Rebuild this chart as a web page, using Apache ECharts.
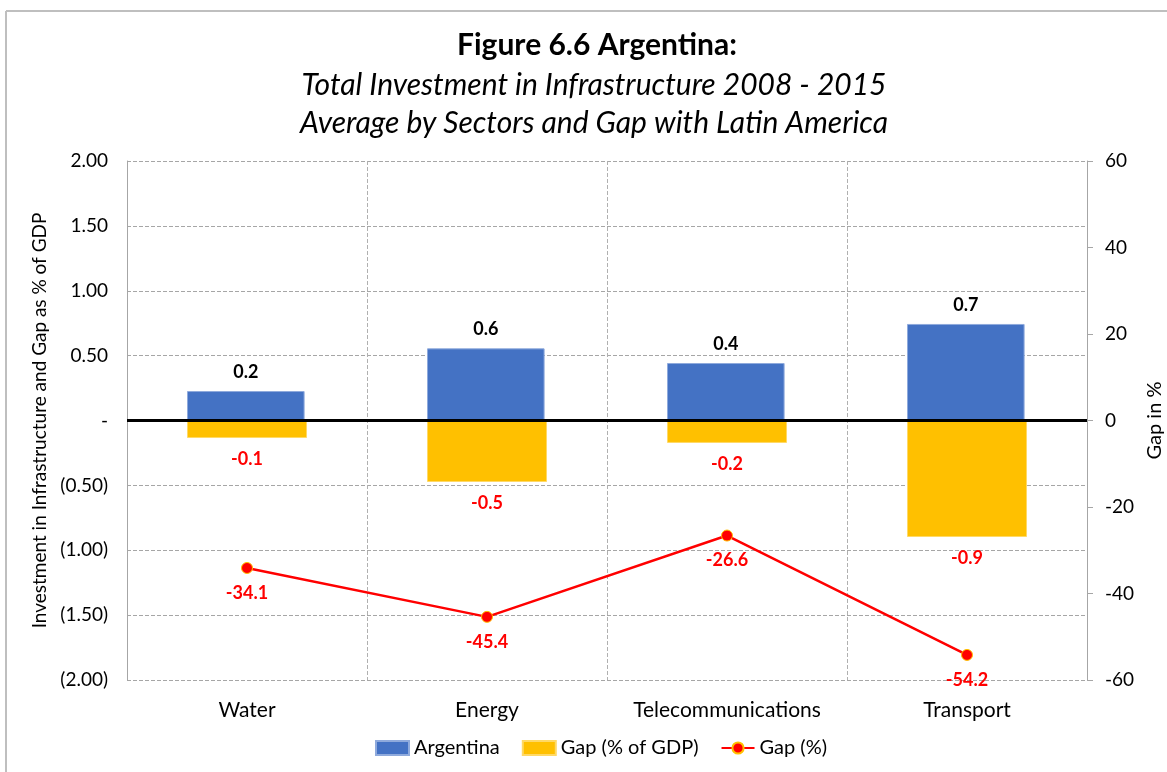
<!DOCTYPE html>
<html>
<head>
<meta charset="utf-8">
<script src="https://cdn.jsdelivr.net/npm/echarts@6/dist/echarts.min.js"></script>
<style>
  html, body { margin: 0; padding: 0; background: #fff; }
  #chart-container { width: 1167px; height: 772px; }
</style>
</head>
<body>
<div id="chart-container"></div>
<script>
var sectors = ['Water', 'Energy', 'Telecommunications', 'Transport'];
var argentina = [0.227, 0.556, 0.443, 0.744];
var gapGdp = [-0.135, -0.474, -0.173, -0.898];
var gapPct = [-34.1, -45.4, -26.6, -54.2];

var FONT = 'Lato';
var dom = document.getElementById('chart-container');
var myChart = echarts.init(dom, null, { renderer: 'canvas' });

function leftLabel(v) {
  if (Math.abs(v) < 1e-9) return '-';
  if (v < 0) return '(' + (-v).toFixed(2) + ')';
  return v.toFixed(2);
}

var option = {
  backgroundColor: '#fff',
  textStyle: { fontFamily: FONT },
  graphic: [
    { type: 'line', shape: { x1: 6, y1: 11, x2: 1167, y2: 11 }, style: { stroke: '#bfbfbf', lineWidth: 2 } },
    { type: 'line', shape: { x1: 6, y1: 11, x2: 6, y2: 772 }, style: { stroke: '#bfbfbf', lineWidth: 2 } },
    {
      type: 'text', x: 597, y: 45,
      style: { text: 'Figure 6.6 Argentina:', align: 'center', verticalAlign: 'middle',
        font: 'bold 30px Lato', fill: '#000' }
    },
    {
      type: 'text', x: 594, y: 85,
      style: { text: 'Total Investment in Infrastructure 2008 - 2015', align: 'center', verticalAlign: 'middle',
        font: 'italic 30px Lato', fill: '#000' }
    },
    {
      type: 'text', x: 594, y: 123,
      style: { text: 'Average by Sectors and Gap with Latin America', align: 'center', verticalAlign: 'middle',
        font: 'italic 30px Lato', fill: '#000' }
    }
  ],
  legend: {
    bottom: 9,
    left: 370,
    itemWidth: 33,
    itemHeight: 14,
    itemGap: 22,
    textStyle: { fontFamily: FONT, fontSize: 20, color: '#000' },
    data: [
      { name: 'Argentina', icon: 'rect' },
      { name: 'Gap (% of GDP)', icon: 'rect' },
      { name: 'Gap (%)' }
    ]
  },
  grid: { left: 127, right: 80, top: 161, bottom: 92, containLabel: false, outerBoundsMode: 'none' },
  xAxis: {
    type: 'category',
    data: sectors,
    axisLine: { show: false },
    axisTick: { show: false },
    axisLabel: { fontFamily: FONT, fontSize: 21, color: '#000', margin: 20, interval: 0 },
    splitLine: { show: true, interval: 0, lineStyle: { color: '#b0b0b0', type: 'dashed', width: 1 } }
  },
  yAxis: [
    {
      type: 'value',
      min: -2, max: 2, interval: 0.5,
      name: 'Investment in Infrastructure and Gap as % of GDP',
      nameLocation: 'middle',
      nameGap: 77,
      nameTextStyle: { fontFamily: FONT, fontSize: 19, color: '#000' },
      axisLine: { show: true, lineStyle: { color: '#a6a6a6', width: 1 } },
      axisTick: { show: false },
      axisLabel: { fontFamily: FONT, fontSize: 19, color: '#000', margin: 19, formatter: leftLabel },
      splitLine: { show: true, lineStyle: { color: '#a6a6a6', type: 'dashed', width: 1 } }
    },
    {
      type: 'value',
      min: -60, max: 60, interval: 20,
      name: 'Gap in %',
      nameLocation: 'middle',
      nameGap: 56,
      nameRotate: 90,
      nameTextStyle: { fontFamily: FONT, fontSize: 20, color: '#000' },
      axisLine: { show: true, lineStyle: { color: '#a6a6a6', width: 1 } },
      axisTick: { show: true, length: 6, lineStyle: { color: '#a6a6a6' } },
      axisLabel: { fontFamily: FONT, fontSize: 19, color: '#000', margin: 18 },
      splitLine: { show: false }
    }
  ],
  series: [
    {
      name: 'Argentina',
      type: 'bar',
      data: argentina,
      barWidth: '49%',
      barGap: '-100%',
      itemStyle: { color: '#4472c4', borderColor: '#8faadc', borderWidth: 1 },
      label: {
        show: true, position: 'top', distance: 10,
        fontFamily: FONT, fontSize: 18, fontWeight: 'bold', color: '#000',
        formatter: function (p) { return p.value.toFixed(1); }
      },
      markLine: {
        silent: true,
        symbol: 'none',
        label: { show: false },
        lineStyle: { color: '#000', width: 3, type: 'solid' },
        data: [{ yAxis: 0 }],
        z: 10
      }
    },
    {
      name: 'Gap (% of GDP)',
      type: 'bar',
      data: gapGdp,
      barWidth: '50%',
      itemStyle: { color: '#ffc000', borderColor: '#ffd966', borderWidth: 1 },
      label: {
        show: true, position: 'bottom', distance: 12,
        fontFamily: FONT, fontSize: 18, fontWeight: 'bold', color: '#ff0000',
        formatter: function (p) { return p.value.toFixed(1); }
      }
    },
    {
      name: 'Gap (%)',
      type: 'line',
      yAxisIndex: 1,
      data: gapPct,
      symbol: 'circle',
      symbolSize: 11,
      lineStyle: { color: '#ff0000', width: 2.5 },
      itemStyle: { color: '#ff0000', borderColor: '#ffc000', borderWidth: 1 },
      label: {
        show: true, position: 'bottom', distance: 10,
        fontFamily: FONT, fontSize: 18, fontWeight: 'bold', color: '#ff0000',
        formatter: function (p) { return p.value.toFixed(1); }
      },
      z: 5
    }
  ]
};

myChart.setOption(option);
window.addEventListener('resize', myChart.resize);
</script>
</body>
</html>
